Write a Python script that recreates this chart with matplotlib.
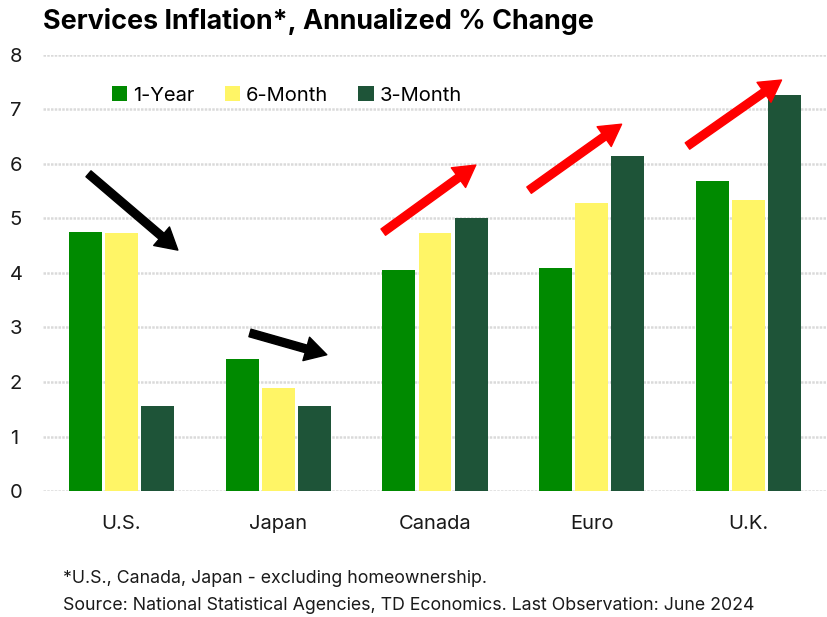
import numpy as np
import matplotlib.pyplot as plt

plt.rcParams['font.family'] = ['Inter', 'DejaVu Sans']

regions = ['U.S.', 'Japan', 'Canada', 'Euro', 'U.K.']
series_names = ['1-Year', '6-Month', '3-Month']
one_year = [4.75, 2.42, 4.06, 4.09, 5.69]
six_month = [4.73, 1.89, 4.73, 5.28, 5.34]
three_month = [1.56, 1.56, 5.01, 6.15, 7.27]
colors = ['#008A00', '#FFF566', '#1E5438']

# arrows: (x0, y0, x1, y1, color) in data coords
arrows = [
    (-0.21, 5.82, 0.36, 4.42, 'black'),
    (0.82, 2.90, 1.31, 2.50, 'black'),
    (1.67, 4.75, 2.26, 5.98, 'red'),
    (2.60, 5.52, 3.19, 6.73, 'red'),
    (3.61, 6.33, 4.21, 7.54, 'red'),
]

fig = plt.figure(figsize=(8.27, 6.17), dpi=100)
ax = fig.add_axes([0.052, 0.2042, 0.948, 0.7067])

x = np.arange(len(regions))
w = 0.21
step = 0.23
for i, (vals, name) in enumerate(zip([one_year, six_month, three_month], series_names)):
    ax.bar(x + (i - 1) * step, vals, width=w, color=colors[i], label=name, zorder=3)

for x0, y0, x1, y1, c in arrows:
    ax.annotate('', xy=(x1, y1), xytext=(x0, y0),
                arrowprops=dict(arrowstyle='simple,head_length=1.1,head_width=1.25,tail_width=0.4',
                                color=c, mutation_scale=14, shrinkA=0, shrinkB=0), zorder=4)

ax.set_xlim(-0.5, 4.5)
ax.set_ylim(0, 8)
ax.set_yticks(range(0, 9))
ax.set_xticks(x)
ax.set_xticklabels(regions)
ax.tick_params(axis='both', length=0, labelsize=14.5, colors='#1a1a1a')
ax.tick_params(axis='x', pad=17)
ax.tick_params(axis='y', pad=24)
for lab in ax.get_yticklabels():
    lab.set_horizontalalignment('left')
ax.yaxis.grid(True, color='#DADADA', linestyle=(0, (1, 0.5)), linewidth=1.8, zorder=0)
for s in ax.spines.values():
    s.set_visible(False)

ax.legend(loc='upper left', bbox_to_anchor=(0.065, 0.97), ncol=3, frameon=False,
          fontsize=14.5, handlelength=0.75, handleheight=0.75, handletextpad=0.3,
          columnspacing=1.5)

fig.text(0.052, 0.965, 'Services Inflation*, Annualized % Change', fontsize=19.4,
         fontweight='bold', va='center', ha='left', color='black')
fig.text(0.076, 0.063, '*U.S., Canada, Japan - excluding homeownership.', fontsize=12.8,
         va='center', color='#1a1a1a')
fig.text(0.076, 0.019, 'Source: National Statistical Agencies, TD Economics. Last Observation: June 2024',
         fontsize=12.8, va='center', color='#1a1a1a')

fig.savefig('out.png', dpi=100)
